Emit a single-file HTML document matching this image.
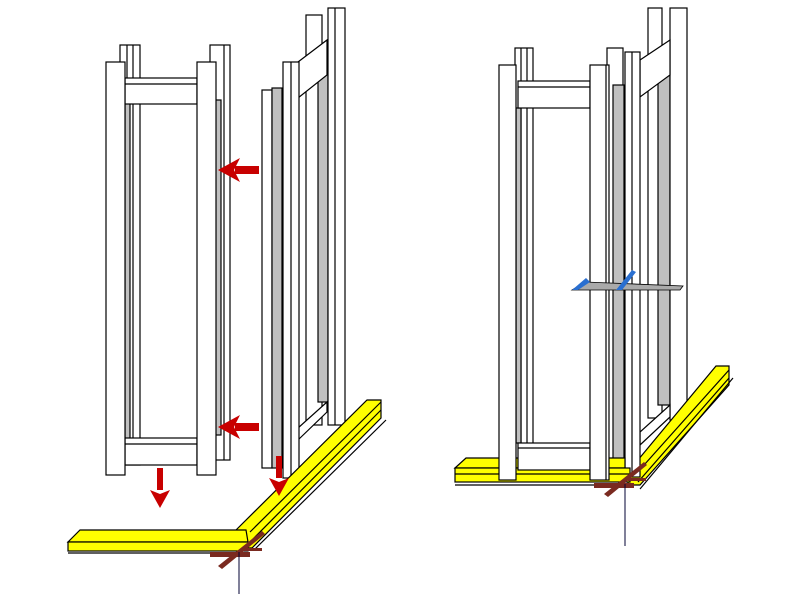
<!DOCTYPE html>
<html><head><style>body{margin:0;background:#fff}svg{display:block}</style></head><body>
<svg width="800" height="600" viewBox="0 0 800 600" xmlns="http://www.w3.org/2000/svg">
<rect width="800" height="600" fill="#fff"/>
<g stroke="#000" stroke-width="1.2" fill="#fff">
<!-- ===== LEFT FIGURE ===== -->
<rect x="120" y="45" width="20" height="420"/>
<line x1="127" y1="45" x2="127" y2="465"/><line x1="133" y1="45" x2="133" y2="465"/>
<rect x="125" y="100" width="5" height="340" fill="#c0c0c0"/>
<rect x="210" y="45" width="20" height="415"/>
<rect x="215" y="100" width="6" height="335" fill="#c0c0c0"/>
<line x1="224" y1="45" x2="224" y2="460"/>
<rect x="125" y="78" width="72" height="26"/>
<line x1="125" y1="84" x2="197" y2="84"/>
<rect x="125" y="438" width="72" height="27"/>
<line x1="125" y1="444" x2="197" y2="444"/>
<rect x="106" y="62" width="19" height="413"/>
<rect x="197" y="62" width="19" height="413"/>
<!-- right wall -->
<rect x="306" y="15" width="16" height="410"/>
<rect x="318" y="72" width="10" height="330" fill="#c0c0c0"/>
<rect x="328" y="8" width="17" height="417"/>
<line x1="335" y1="8" x2="335" y2="425"/>
<polygon points="298,62 327,40 327,75 298,98"/>
<polygon points="298,440 327,412 327,402 298,428"/>
<rect x="262" y="90" width="10" height="378"/>
<rect x="272" y="88" width="10" height="380" fill="#c0c0c0"/>
<rect x="283" y="62" width="16" height="416"/>
<line x1="291" y1="62" x2="291" y2="478"/>
<!-- yellow plates left -->
<polygon points="236,530 367,400 381,400 381,418 252,548 240,548" fill="#ffff00"/>
<line x1="250" y1="532" x2="381" y2="402"/>
<line x1="252" y1="540" x2="381" y2="410"/>
<line x1="254" y1="550" x2="386" y2="420"/>
<polygon points="68,542 80,530 246,530 248,542" fill="#ffff00"/>
<rect x="68" y="542" width="180" height="9" fill="#ffff00"/>
<line x1="68" y1="553" x2="242" y2="553"/>
<!-- ===== RIGHT FIGURE ===== -->
<rect x="515" y="48" width="18" height="420"/>
<line x1="521" y1="48" x2="521" y2="468"/><line x1="527" y1="48" x2="527" y2="468"/>
<rect x="516" y="108" width="5" height="335" fill="#c0c0c0"/>
<rect x="607" y="48" width="16" height="420"/>
<rect x="613" y="85" width="11" height="390" fill="#c0c0c0"/>
<rect x="648" y="8" width="14" height="410"/>
<rect x="658" y="75" width="12" height="330" fill="#c0c0c0"/>
<rect x="670" y="8" width="17" height="412"/>
<polygon points="640,60 670,40 670,75 640,97"/>
<polygon points="640,445 670,417 670,405 640,432"/>
<polygon points="628,472 716,366 729,366 729,385 640,485 628,485" fill="#ffff00"/>
<line x1="636" y1="474" x2="729" y2="370"/>
<line x1="638" y1="482" x2="729" y2="378"/>
<line x1="640" y1="489" x2="733" y2="378"/>
<rect x="625" y="52" width="15" height="425"/>
<line x1="632" y1="52" x2="632" y2="477"/>
<polygon points="455,468 466,458 625,458 625,468" fill="#ffff00"/>
<rect x="455" y="468" width="175" height="14" fill="#ffff00"/>
<line x1="455" y1="474" x2="630" y2="474"/>
<line x1="455" y1="485" x2="630" y2="485"/>
<rect x="518" y="443" width="72" height="27"/>
<line x1="518" y1="448" x2="590" y2="448"/>
<rect x="518" y="81" width="72" height="27"/>
<line x1="518" y1="87" x2="590" y2="87"/>
<rect x="499" y="65" width="17" height="415"/>
<rect x="590" y="65" width="19" height="415"/>
<line x1="606" y1="65" x2="606" y2="480"/>
</g>
<polygon points="572,290 585,282 683,286 680,290" fill="#aaa" stroke="#000" stroke-width="0.8"/>
<polygon points="572,290 586,278 590,282 578,290" fill="#2a6fd0"/>
<polygon points="616,290 632,270 636,272 622,290" fill="#2a6fd0"/>
<g fill="#7a2a20">
<rect x="210" y="552" width="40" height="5"/>
<polygon points="218,566 262,531 265,534 222,569"/>
<rect x="244" y="548" width="18" height="3"/>
<rect x="594" y="483" width="40" height="5"/>
<polygon points="604,494 644,462 647,465 608,497"/>
<rect x="628" y="478" width="18" height="3"/>
</g>
<line x1="239" y1="552" x2="239" y2="594" stroke="#003" stroke-width="1"/>
<line x1="625" y1="484" x2="625" y2="546" stroke="#003" stroke-width="1"/>
<g fill="#c80000">
<rect x="235" y="166" width="24" height="8"/><polygon points="218,170 240,158 234,170 240,182"/>
<rect x="235" y="423" width="24" height="8"/><polygon points="218,427 240,415 234,427 240,439"/>
<rect x="157" y="468" width="6" height="22"/><polygon points="160,508 150,490 160,494 170,490"/>
<rect x="276" y="456" width="6" height="22"/><polygon points="279,496 269,478 279,482 289,478"/>
</g>
</svg>
</body></html>
